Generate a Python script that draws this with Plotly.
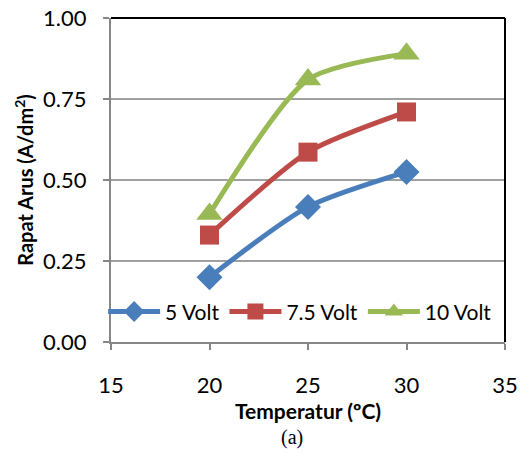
import plotly.graph_objects as go

temps = [20, 25, 30]
volt5 = [0.20, 0.417, 0.525]
volt75 = [0.33, 0.586, 0.71]
volt10 = [0.395, 0.81, 0.89]
names = ["5 Volt", "7.5 Volt", "10 Volt"]
colors = ["#4a7ebb", "#be4b48", "#98b954"]
symbols = ["diamond", "square", "triangle-up"]
sizes = [20, 19, 23]

fig = go.Figure()
for ys, n, c, s, sz in zip([volt5, volt75, volt10], names, colors, symbols, sizes):
    fig.add_trace(go.Scatter(
        x=temps, y=ys, name=n, mode="lines+markers",
        line=dict(color=c, width=5, shape="spline", smoothing=0.7),
        marker=dict(symbol=s, size=sz, color=c),
    ))

fig.update_layout(
    width=525, height=455,
    margin=dict(l=111, r=20, t=18, b=113),
    plot_bgcolor="white", paper_bgcolor="white",
    font=dict(family="Lato, sans-serif", size=22, color="black"),
    showlegend=True,
    legend=dict(orientation="h", x=0.48, xanchor="center", y=0.093, yanchor="middle",
                bgcolor="rgba(255,255,255,0)", font=dict(size=21),
                itemwidth=52, tracegroupgap=0),
    xaxis=dict(range=[15, 35], tickvals=[15, 20, 25, 30, 35], showgrid=False,
               showline=True, linecolor="#868686", linewidth=2, automargin=False,
               ticks="outside", ticklen=6, tickcolor="#868686", tickwidth=2,
               ticklabelstandoff=17, zeroline=False, tickfont=dict(size=22),
               title=dict(text="<b>Temperatur (ºC)</b>", font=dict(size=21), standoff=0)),
    yaxis=dict(range=[0, 1], tickvals=[0, 0.25, 0.5, 0.75, 1.0], tickformat=".2f",
               showgrid=True, gridcolor="#a0a0a0", gridwidth=1.5,
               showline=True, linecolor="#868686", linewidth=2, automargin=False,
               ticks="outside", ticklen=6, tickcolor="#868686", tickwidth=2,
               ticklabelstandoff=12,
               zeroline=False, tickfont=dict(size=22),
               title=dict(text="<b>Rapat Arus (A/dm<sup>2</sup>)</b>", font=dict(size=20), standoff=4)),
    shapes=[
        dict(type="line", xref="paper", yref="paper", x0=0, x1=1, y0=1, y1=1,
             line=dict(color="black", width=2)),
        dict(type="line", xref="paper", yref="paper", x0=1, x1=1, y0=0, y1=1,
             line=dict(color="black", width=2)),
    ],
    annotations=[dict(text="(a)", xref="paper", yref="paper", x=0.46, y=-0.295,
                      yanchor="middle", showarrow=False,
                      font=dict(family="Liberation Serif", size=20, color="black"))],
)

fig.write_html("out.html")
